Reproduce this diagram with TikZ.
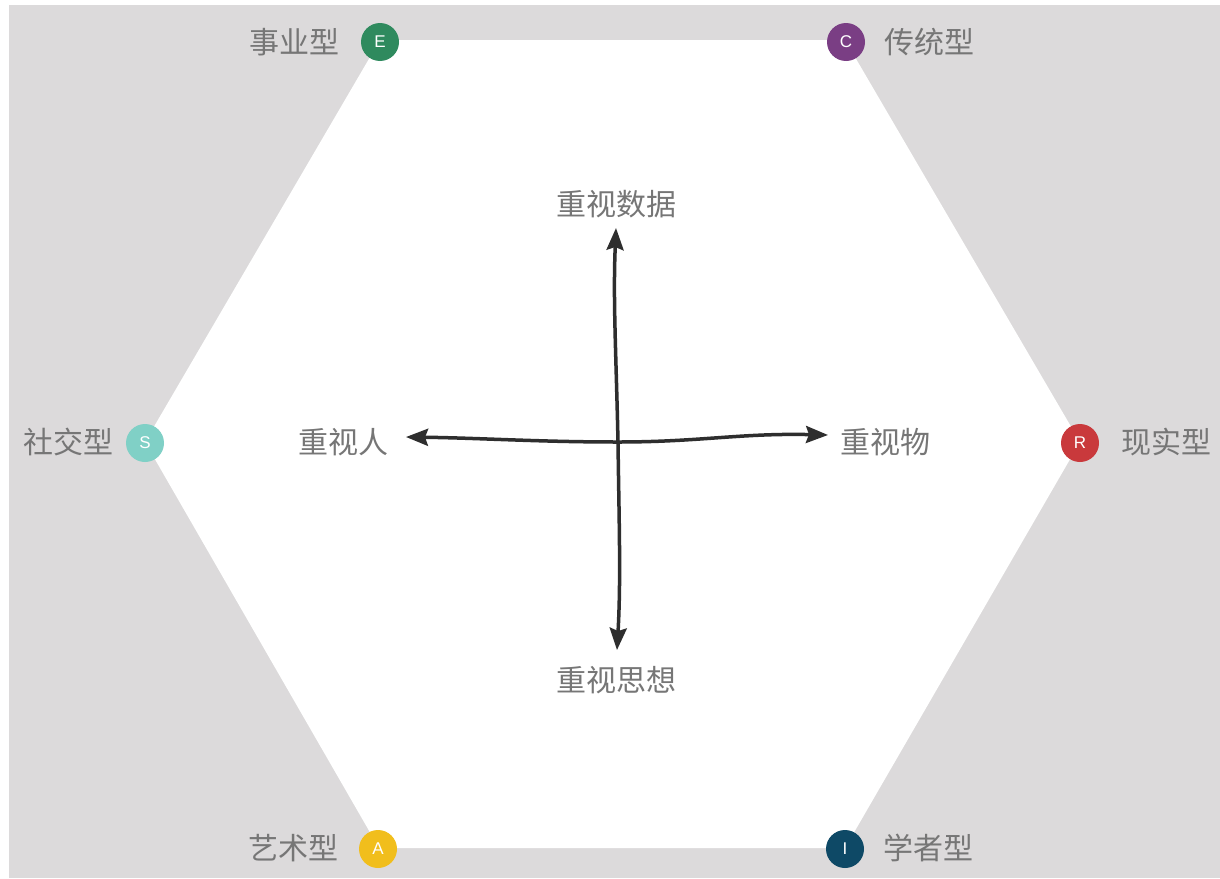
\documentclass[tikz,border=0pt]{standalone}
\usepackage{fontspec}
\setmainfont{Noto Sans CJK SC}
\newfontfamily\latinsans{Liberation Sans}
\usetikzlibrary{arrows.meta}
\definecolor{bggray}{HTML}{DCDADB}
\definecolor{txtgray}{HTML}{767676}
\definecolor{arrowdark}{HTML}{2E2E2E}
\definecolor{cE}{HTML}{2F8A5E}
\definecolor{cC}{HTML}{7A3E84}
\definecolor{cS}{HTML}{80D0C6}
\definecolor{cR}{HTML}{C9393C}
\definecolor{cA}{HTML}{F1BE1C}
\definecolor{cI}{HTML}{0E4966}
\tikzset{
  badge/.style={circle, minimum size=38pt, inner sep=0pt, text=white, font=\latinsans\fontsize{17}{17}\selectfont},
  typelabel/.style={text=txtgray, font=\fontsize{30}{30}\selectfont, inner sep=0pt},
  axislabel/.style={text=txtgray, font=\fontsize{30}{30}\selectfont, inner sep=0pt},
  axisarrow/.style={draw=arrowdark, line width=3.5pt, line cap=round, -{Stealth[length=22pt,width=17pt,inset=3pt]}}
}
\begin{document}
\begin{tikzpicture}[x=1pt,y=-1pt]
\useasboundingbox (0,0) rectangle (1220,878);
\fill[white] (0,0) rectangle (1220,878);
\fill[bggray] (9,5) rectangle (1220,878);
% hexagon
\fill[white] (380,40) -- (845,40) -- (1080,442) -- (845,848) -- (379,848) -- (145,442) -- cycle;
% badges
\node[badge, fill=cE] (E) at (380,42) {E};
\node[badge, fill=cC] (C) at (846,42) {C};
\node[badge, fill=cS] (S) at (145,443) {S};
\node[badge, fill=cR] (R) at (1080,443) {R};
\node[badge, fill=cA] (A) at (378,849) {A};
\node[badge, fill=cI] (I) at (845,849) {I};
% type labels
\node[typelabel, anchor=east] (lE) at (340,42) {事业型};
\node[typelabel, anchor=west] (lC) at (884,42) {传统型};
\node[typelabel, anchor=east] (lS) at (114,442) {社交型};
\node[typelabel, anchor=west] (lR) at (1121,442) {现实型};
\node[typelabel, anchor=east] (lA) at (339,848) {艺术型};
\node[typelabel, anchor=west] (lI) at (883,848) {学者型};
% axis labels
\node[axislabel] (top) at (616,204) {重视数据};
\node[axislabel] (bot) at (616,680) {重视思想};
\node[axislabel] (lft) at (343,442) {重视人};
\node[axislabel] (rgt) at (885,442) {重视物};
% arrow ends
\coordinate (ctr) at (618,442);
\coordinate (tT) at (616,228);
\coordinate (tB) at (617,650);
\coordinate (tL) at (406,437);
\coordinate (tR) at (828,435);
\draw[axisarrow] (ctr) .. controls (616,350) and (613,300) .. (tT);
\draw[axisarrow] (ctr) .. controls (619,520) and (621,580) .. (tB);
\draw[axisarrow] (ctr) .. controls (540,442) and (480,438) .. (tL);
\draw[axisarrow] (ctr) .. controls (700,442) and (740,433) .. (tR);
\end{tikzpicture}
\end{document}
